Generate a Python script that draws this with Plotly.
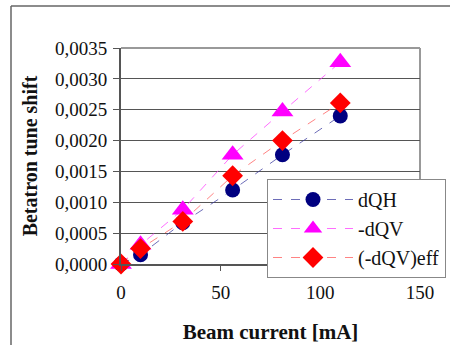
import plotly.graph_objects as go

current = [0, 9.8, 31, 56, 81, 110]
dQH = [0, 0.00015, 0.00067, 0.0012, 0.00177, 0.0024]
dQV = [0, 0.00031, 0.00088, 0.00177, 0.00247, 0.00327]
dQV_eff = [0, 0.00025, 0.00069, 0.00143, 0.0020, 0.00261]

names = ["dQH", "-dQV", "(-dQV)eff"]
yticks = [0, 0.0005, 0.001, 0.0015, 0.002, 0.0025, 0.003, 0.0035]
xticks = [0, 50, 100, 150]

FONT = "Liberation Serif"
L, R, T, B = 121, 30, 48, 81
W, H = 450, 345
pw, ph = W - L - R, H - T - B

def px(x):
    return (x - L) / pw

def py(y):
    return (H - B - y) / ph

fig = go.Figure()
fig.add_trace(go.Scatter(x=current, y=dQH, name=names[0], mode="lines+markers",
                         line=dict(color="rgba(60,60,160,0.75)", width=1, dash="dash"),
                         marker=dict(symbol="circle", size=15, color="#000080"), cliponaxis=False))
fig.add_trace(go.Scatter(x=current, y=dQV, name=names[1], mode="lines+markers",
                         line=dict(color="rgba(255,60,255,0.75)", width=1, dash="dash"),
                         marker=dict(symbol="triangle-up", size=19, color="#ff00ff"), cliponaxis=False))
fig.add_trace(go.Scatter(x=current, y=dQV_eff, name=names[2], mode="lines+markers",
                         line=dict(color="rgba(255,90,90,0.75)", width=1, dash="dash"),
                         marker=dict(symbol="diamond", size=16, color="#ff0000"), cliponaxis=False))

fig.update_layout(
    width=W, height=H, margin=dict(l=L, r=R, t=T, b=B, autoexpand=False),
    paper_bgcolor="white", plot_bgcolor="white",
    separators=",.",
    font=dict(family=FONT, size=17, color="#111"),
    xaxis=dict(range=[0, 150], tickvals=xticks, showgrid=False, zeroline=False,
               showline=True, linecolor="#555", linewidth=2, ticks="outside", ticklen=5,
               tickcolor="#555", tickfont=dict(size=19, family=FONT), ticklabelstandoff=5,
               title=dict(text="<b>Beam current [mA]</b>", font=dict(size=21, family=FONT), standoff=23)),
    yaxis=dict(range=[0, 0.0035], tickvals=yticks, tickformat=".4f", showgrid=True,
               gridcolor="#555", gridwidth=1, zeroline=False,
               showline=True, linecolor="#555", linewidth=2, ticks="outside", ticklen=6,
               tickcolor="#555", tickfont=dict(size=19, family=FONT), ticklabelstandoff=2,
               title=dict(text="<b>Betatron tune shift</b>", font=dict(size=20, family=FONT), standoff=12)),
    legend=dict(x=px(267), y=py(179), xanchor="left", yanchor="top",
                bgcolor="white", bordercolor="#888", borderwidth=1,
                font=dict(size=20, family=FONT), itemwidth=80, tracegroupgap=0),
    showlegend=True,
)

fig.add_shape(type="line", xref="paper", yref="paper", x0=1, x1=1, y0=0, y1=1,
              line=dict(color="#999", width=2), layer="below")
fig.add_shape(type="line", xref="paper", yref="paper", x0=0, x1=1, y0=1, y1=1,
              line=dict(color="#999", width=2), layer="below")
fig.add_shape(type="line", xref="paper", yref="paper", x0=px(11), x1=px(451), y0=py(6), y1=py(6),
              line=dict(color="#666", width=1.5))
fig.add_shape(type="line", xref="paper", yref="paper", x0=px(11), x1=px(11), y0=py(6), y1=py(346),
              line=dict(color="#666", width=1.5))

fig.write_html("out.html")
